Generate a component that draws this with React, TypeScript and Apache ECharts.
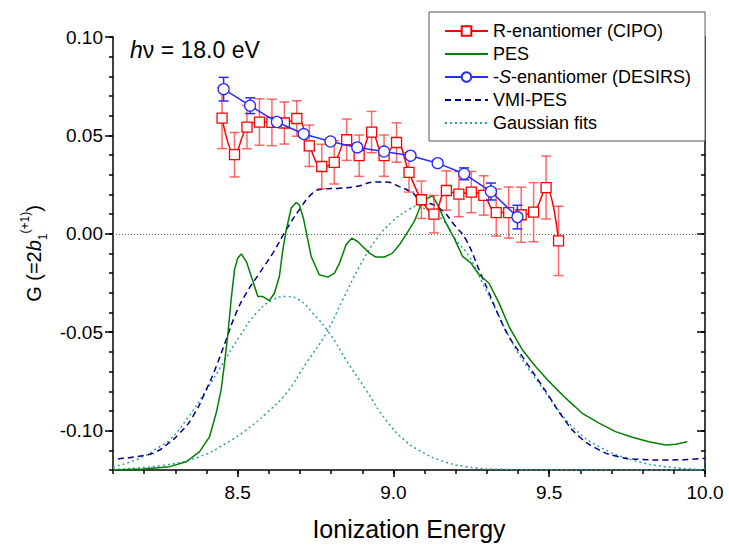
import React, { useEffect, useRef } from 'react';
import * as echarts from 'echarts';

const FONT = '"Liberation Sans", Arial, Helvetica, sans-serif';

// ---- Data ----
const redName = 'R-enantiomer (CIPO)';
const pesName = 'PES';
const blueName = '-S-enantiomer (DESIRS)';
const vmiName = 'VMI-PES';
const gaussName = 'Gaussian fits';

const redX = [8.45, 8.49, 8.53, 8.57, 8.61, 8.65, 8.69, 8.73, 8.77, 8.81, 8.85, 8.89, 8.93, 8.97, 9.01, 9.05, 9.09, 9.13, 9.17, 9.21, 9.25, 9.29, 9.33, 9.37, 9.41, 9.45, 9.49, 9.53];
const redY = [0.0588, 0.0402, 0.0542, 0.0568, 0.0566, 0.0563, 0.0586, 0.0447, 0.0342, 0.0363, 0.0478, 0.0397, 0.0517, 0.0397, 0.0464, 0.0312, 0.0173, 0.0100, 0.0220, 0.0202, 0.0212, 0.0195, 0.0108, 0.0108, 0.0097, 0.0110, 0.0235, -0.0036];
const redErr = [0.0155, 0.0113, 0.011, 0.0118, 0.0118, 0.0107, 0.009, 0.0105, 0.0113, 0.011, 0.0105, 0.0105, 0.0105, 0.0105, 0.01, 0.01, 0.0095, 0.0095, 0.01, 0.0115, 0.0105, 0.01, 0.012, 0.013, 0.014, 0.015, 0.016, 0.0176];

const blueX = [8.455, 8.540, 8.626, 8.712, 8.798, 8.884, 8.970, 9.055, 9.142, 9.227, 9.313, 9.398];
const blueY = [0.0735, 0.0651, 0.0568, 0.0507, 0.0469, 0.0439, 0.0418, 0.0397, 0.0359, 0.0305, 0.0215, 0.0085];
const blueErr = [0.006, 0.004, 0.002, 0.0015, 0.0015, 0.0015, 0.0015, 0.0015, 0.0015, 0.003, 0.0043, 0.006];

const pesX = [8.10, 8.196, 8.282, 8.335, 8.378, 8.41, 8.431, 8.447, 8.458, 8.469, 8.479, 8.49, 8.50, 8.512, 8.528, 8.544, 8.565, 8.581, 8.602, 8.618, 8.634, 8.645, 8.656, 8.672, 8.688, 8.698, 8.711, 8.722, 8.736, 8.762, 8.789, 8.811, 8.827, 8.848, 8.866, 8.885, 8.907, 8.923, 8.944, 8.971, 8.997, 9.019, 9.04, 9.067, 9.083, 9.094, 9.11, 9.126, 9.142, 9.169, 9.195, 9.222, 9.249, 9.275, 9.307, 9.339, 9.371, 9.414, 9.457, 9.5, 9.553, 9.606, 9.66, 9.713, 9.767, 9.82, 9.874, 9.906, 9.943];
const pesY = [-0.12, -0.1195, -0.1183, -0.1158, -0.1107, -0.103, -0.0912, -0.0793, -0.0657, -0.0505, -0.0336, -0.0183, -0.0124, -0.0102, -0.0141, -0.0217, -0.0319, -0.0319, -0.0339, -0.0302, -0.0217, -0.0081, 0.002, 0.0131, 0.0159, 0.0147, 0.008, -0.0005, -0.0115, -0.0208, -0.022, -0.02, -0.0149, -0.0056, -0.0022, -0.0039, -0.0073, -0.0098, -0.0118, -0.0118, -0.0098, -0.0056, -0.0005, 0.0063, 0.0126, 0.0164, 0.0181, 0.0193, 0.0147, 0.0054, -0.0022, -0.0115, -0.0149, -0.0208, -0.0251, -0.0352, -0.0471, -0.059, -0.0675, -0.0751, -0.0835, -0.0912, -0.0962, -0.1005, -0.1034, -0.1056, -0.1073, -0.1069, -0.1056];

const vmiX = [8.116, 8.207, 8.239, 8.271, 8.314, 8.356, 8.399, 8.431, 8.463, 8.495, 8.528, 8.57, 8.613, 8.656, 8.698, 8.741, 8.773, 8.827, 8.88, 8.944, 8.976, 9.019, 9.062, 9.083, 9.147, 9.2, 9.233, 9.275, 9.307, 9.339, 9.371, 9.414, 9.457, 9.5, 9.542, 9.596, 9.66, 9.713, 9.788, 9.874, 9.948, 10.0];
const vmiY = [-0.1144, -0.1124, -0.1107, -0.1073, -0.1013, -0.0929, -0.0793, -0.0675, -0.0539, -0.0403, -0.0301, -0.02, -0.0098, 0.002, 0.0122, 0.0207, 0.0227, 0.0232, 0.024, 0.0263, 0.0263, 0.024, 0.0207, 0.0173, 0.0131, 0.0037, -0.003, -0.0183, -0.0301, -0.042, -0.0522, -0.0624, -0.0725, -0.0827, -0.0929, -0.103, -0.1098, -0.1129, -0.1146, -0.1149, -0.1146, -0.114];

const gauss1X = [8.10, 8.186, 8.25, 8.282, 8.335, 8.40, 8.453, 8.506, 8.56, 8.613, 8.656, 8.698, 8.741, 8.795, 8.848, 8.912, 8.976, 9.04, 9.083, 9.147, 9.233, 9.339, 9.5, 9.7, 10.0];
const gauss1Y = [-0.1185, -0.114, -0.1081, -0.1047, -0.0946, -0.0793, -0.0657, -0.0522, -0.0403, -0.0336, -0.0319, -0.0336, -0.0403, -0.0505, -0.0641, -0.0793, -0.0946, -0.1055, -0.11, -0.1149, -0.1183, -0.1196, -0.1199, -0.12, -0.12];

const gauss2X = [8.10, 8.271, 8.378, 8.463, 8.528, 8.592, 8.656, 8.72, 8.784, 8.837, 8.891, 8.944, 8.997, 9.051, 9.075, 9.10, 9.158, 9.2, 9.243, 9.286, 9.329, 9.371, 9.414, 9.467, 9.521, 9.585, 9.66, 9.767, 9.874, 10.0];
const gauss2Y = [-0.1197, -0.1174, -0.1132, -0.1064, -0.0996, -0.0912, -0.081, -0.0657, -0.0505, -0.0336, -0.0166, -0.003, 0.0063, 0.0125, 0.014, 0.0128, 0.0071, -0.003, -0.0115, -0.0251, -0.0386, -0.0522, -0.064, -0.0759, -0.0878, -0.0996, -0.1081, -0.1149, -0.1183, -0.1198];

const xMajorTicks = [8.5, 9.0, 9.5, 10.0];
const yMajorTicks = [-0.10, -0.05, 0.0, 0.05, 0.10];

const X_MIN = 8.1;
const X_MAX = 10.0;
const Y_MIN = -0.12;
const Y_MAX = 0.10;

const zip = (xs: number[], ys: number[]) => xs.map((x, i) => [x, ys[i]]);
const zip3 = (xs: number[], ys: number[], es: number[]) => xs.map((x, i) => [x, ys[i], es[i]]);

function errorBars(data: number[][], color: string, capHalf: number, z: number) {
  return {
    type: 'custom',
    silent: true,
    z,
    xAxisIndex: 0,
    yAxisIndex: 0,
    dimensions: ['x', 'y', 'err'],
    encode: { x: 0, y: 1 },
    data,
    renderItem: (_params: any, api: any) => {
      const x = api.value(0);
      const y = api.value(1);
      const e = api.value(2);
      const top = api.coord([x, y + e]);
      const bot = api.coord([x, y - e]);
      const style = { stroke: color, lineWidth: 1.5, fill: null };
      return {
        type: 'group',
        children: [
          { type: 'line', shape: { x1: top[0], y1: top[1], x2: bot[0], y2: bot[1] }, style },
          { type: 'line', shape: { x1: top[0] - capHalf, y1: top[1], x2: top[0] + capHalf, y2: top[1] }, style },
          { type: 'line', shape: { x1: bot[0] - capHalf, y1: bot[1], x2: bot[0] + capHalf, y2: bot[1] }, style },
        ],
      };
    },
  };
}

export default function App() {
  const ref = useRef<HTMLDivElement>(null);
  useEffect(() => {
    if (!ref.current) return;
    const chart = echarts.init(ref.current, undefined, { renderer: 'svg' });
    const black = '#000';
    const lineCommon = { lineStyle: { color: black, width: 1.5 } };
    const noSym = { opacity: 0 };
    const option: any = {
      animation: false,
      backgroundColor: '#fff',
      textStyle: { fontFamily: FONT },
      grid: { left: 113, right: 24, top: 37, bottom: 77, containLabel: false },
      legend: {
        data: [
          { name: redName },
          { name: pesName, itemStyle: noSym },
          { name: blueName },
          { name: vmiName, itemStyle: noSym },
          { name: gaussName, itemStyle: noSym },
        ],
        orient: 'vertical',
        left: 429,
        top: 12,
        width: 290,
        backgroundColor: '#fff',
        borderColor: '#555',
        borderWidth: 1,
        borderRadius: 0,
        padding: [9, 14, 8, 15],
        itemGap: 3,
        itemWidth: 43,
        itemHeight: 12,
        z: 20,
        formatter: (name: string) => (name === blueName ? '-{it|S}-enantiomer (DESIRS)' : name),
        textStyle: {
          fontFamily: FONT,
          fontSize: 18,
          color: black,
          lineHeight: 20,
          rich: { it: { fontFamily: FONT, fontSize: 18, fontStyle: 'italic', color: black, lineHeight: 20 } },
        },
      },
      xAxis: [
        {
          type: 'value', position: 'bottom', min: X_MIN, max: X_MAX, interval: 0.1,
          axisLine: { show: true, ...lineCommon, onZero: false },
          axisTick: { show: true, inside: false, length: 4, lineStyle: { color: black, width: 1.5 } },
          axisLabel: { show: false },
          splitLine: { show: false },
        },
        {
          type: 'value', position: 'bottom', min: X_MIN, max: X_MAX,
          axisLine: { show: false, onZero: false },
          axisTick: { show: true, inside: false, length: 7, customValues: xMajorTicks, lineStyle: { color: black, width: 1.5 } },
          axisLabel: {
            show: true, customValues: xMajorTicks, margin: 13,
            fontFamily: FONT, fontSize: 19, color: black,
            formatter: (v: number) => v.toFixed(1),
          },
          splitLine: { show: false },
          name: 'Ionization Energy',
          nameLocation: 'middle',
          nameGap: 46,
          nameTextStyle: { fontFamily: FONT, fontSize: 25, color: black },
        },
      ],
      yAxis: [
        {
          type: 'value', position: 'left', min: Y_MIN, max: Y_MAX,
          axisLine: { show: true, ...lineCommon, onZero: false },
          axisTick: { show: true, inside: false, length: 8, customValues: yMajorTicks, lineStyle: { color: black, width: 1.5 } },
          axisLabel: {
            show: true, customValues: yMajorTicks, margin: 10,
            fontFamily: FONT, fontSize: 19, color: black,
            formatter: (v: number) => v.toFixed(2),
          },
          splitLine: { show: false },
          name: '{n|G (=2}{i|b}{sub|1}{sup|(+1)}{n|)}',
          nameLocation: 'middle',
          nameRotate: 90,
          nameGap: 58,
          nameTextStyle: {
            fontFamily: FONT, fontSize: 20, color: black,
            rich: {
              n: { fontFamily: FONT, fontSize: 20, color: black, lineHeight: 30, verticalAlign: 'middle' },
              i: { fontFamily: FONT, fontSize: 20, fontStyle: 'italic', color: black, lineHeight: 30, verticalAlign: 'middle' },
              sub: { fontFamily: FONT, fontSize: 12, color: black, lineHeight: 12, verticalAlign: 'bottom' },
              sup: { fontFamily: FONT, fontSize: 12, color: black, lineHeight: 12, verticalAlign: 'top' },
            },
          },
        },
        {
          type: 'value', position: 'left', min: Y_MIN, max: Y_MAX, interval: 0.01,
          axisLine: { show: false, onZero: false },
          axisTick: { show: true, inside: false, length: 4, lineStyle: { color: black, width: 1.5 } },
          axisLabel: { show: false },
          splitLine: { show: false },
        },
        {
          type: 'value', position: 'right', min: Y_MIN, max: Y_MAX,
          axisLine: { show: true, ...lineCommon, onZero: false },
          axisTick: { show: true, inside: true, length: 8, customValues: yMajorTicks, lineStyle: { color: black, width: 1.5 } },
          axisLabel: { show: false },
          splitLine: { show: false },
        },
        {
          type: 'value', position: 'right', min: Y_MIN, max: Y_MAX, interval: 0.01,
          axisLine: { show: false, onZero: false },
          axisTick: { show: true, inside: true, length: 4, lineStyle: { color: black, width: 1.5 } },
          axisLabel: { show: false },
          splitLine: { show: false },
        },
      ],
      graphic: [
        {
          type: 'text',
          left: 130,
          top: 38,
          z: 30,
          style: {
            text: '{i|h}ν = 18.0 eV',
            fontFamily: FONT,
            fontSize: 23,
            fill: black,
            rich: {
              i: { fontFamily: FONT, fontSize: 23, fontStyle: 'italic', fill: black, color: black },
            },
          },
        },
      ],
      series: [
        {
          name: gaussName, type: 'line', data: zip(gauss1X, gauss1Y), symbol: 'none', smooth: true,
          lineStyle: { color: '#2e9e9e', width: 1.5, type: [2, 3] }, itemStyle: { color: '#2e9e9e' }, z: 2,
          markLine: {
            silent: true, symbol: ['none', 'none'], label: { show: false },
            lineStyle: { color: '#666', width: 1, type: [1, 2] },
            data: [{ yAxis: 0 }],
          },
        },
        {
          name: gaussName, type: 'line', data: zip(gauss2X, gauss2Y), symbol: 'none', smooth: true,
          lineStyle: { color: '#2e9e9e', width: 1.5, type: [2, 3] }, itemStyle: { color: '#2e9e9e' }, z: 2,
        },
        {
          name: vmiName, type: 'line', data: zip(vmiX, vmiY), symbol: 'none', smooth: true,
          lineStyle: { color: '#00008b', width: 1.5, type: [6, 4] }, itemStyle: { color: '#00008b' }, z: 3,
        },
        {
          name: pesName, type: 'line', data: zip(pesX, pesY), symbol: 'none',
          lineStyle: { color: '#008000', width: 1.5 }, itemStyle: { color: '#008000' }, z: 4,
        },
        errorBars(zip3(redX, redY, redErr), 'rgba(255,40,40,0.7)', 5, 5),
        {
          name: redName, type: 'line', data: zip(redX, redY), symbol: 'rect', symbolSize: 10, smooth: 0.4,
          showAllSymbol: true,
          lineStyle: { color: '#ff0000', width: 1.5 },
          itemStyle: { color: '#fff', borderColor: '#ff0000', borderWidth: 1.3 },
          z: 6,
        },
        errorBars(zip3(blueX, blueY, blueErr), '#2a2aff', 5, 7),
        {
          name: blueName, type: 'line', data: zip(blueX, blueY), symbol: 'circle', symbolSize: 11,
          showAllSymbol: true,
          lineStyle: { color: '#2a2aff', width: 1.5 },
          itemStyle: { color: '#fff', borderColor: '#2a2aff', borderWidth: 1.3 },
          z: 8,
        },
      ],
    };
    chart.setOption(option);
    return () => chart.dispose();
  }, []);
  return (
    <div
      ref={ref}
      style={{ position: 'fixed', left: 0, top: 0, width: 729, height: 547, background: '#fff' }}
    />
  );
}
